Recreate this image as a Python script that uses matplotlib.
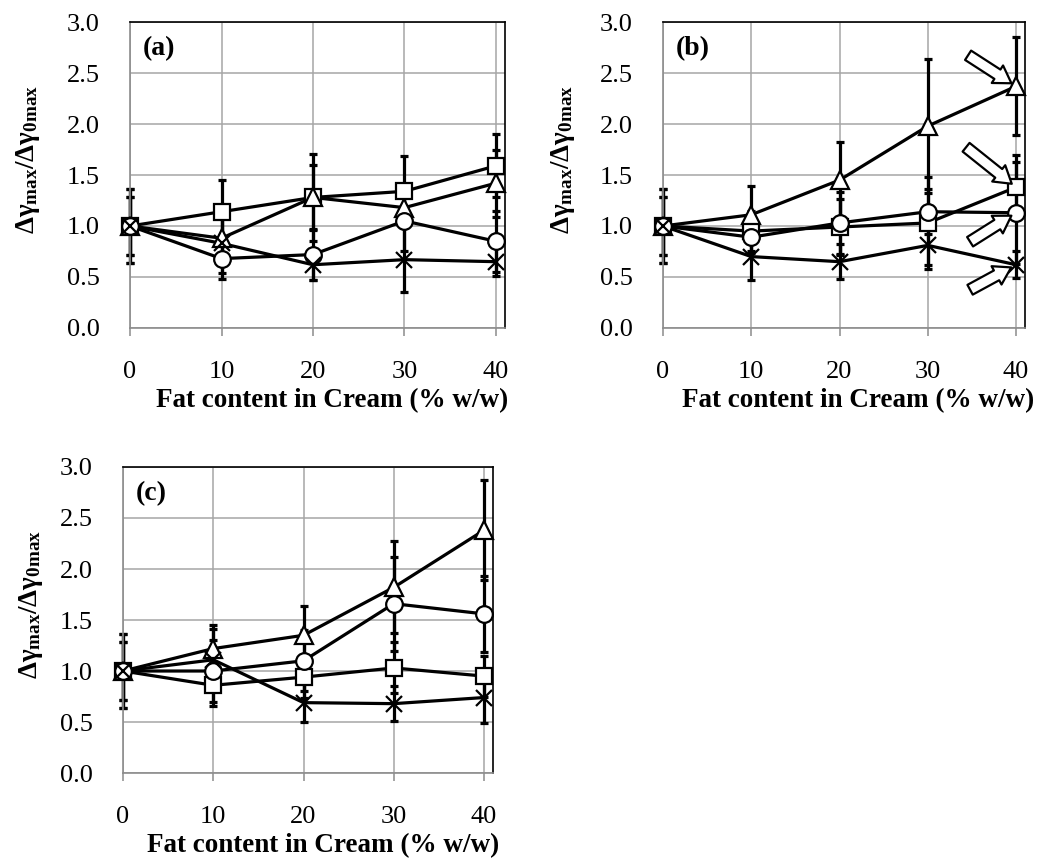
import numpy as np
import matplotlib
matplotlib.use("Agg")
import matplotlib.pyplot as plt

plt.rcParams["font.family"] = ["Liberation Serif", "DejaVu Serif"]
plt.rcParams["mathtext.fontset"] = "custom"
plt.rcParams["mathtext.rm"] = "Liberation Serif"
plt.rcParams["mathtext.bf"] = "Liberation Serif:bold"
plt.rcParams["mathtext.it"] = "Liberation Serif:italic"

fat = [0, 10, 20, 30, 40]

# panel (a)
a_square = [1.0, 1.14, 1.28, 1.34, 1.59]
a_square_err = [0.36, 0.31, 0.43, 0.35, 0.31]
a_triangle = [1.0, 0.88, 1.28, 1.18, 1.42]
a_triangle_err = [0.28, 0.20, 0.32, 0.20, 0.33]
a_circle = [1.0, 0.68, 0.72, 1.05, 0.85]
a_circle_err = [0.28, 0.20, 0.25, 0.30, 0.30]
a_star = [1.0, 0.83, 0.62, 0.67, 0.65]
a_star_err = [0.36, 0.29, 0.15, 0.32, 0.14]

# panel (b)
b_square = [1.0, 0.95, 0.99, 1.03, 1.38]
b_square_err = [0.36, 0.20, 0.27, 0.45, 0.32]
b_triangle = [1.0, 1.11, 1.45, 1.98, 2.37]
b_triangle_err = [0.28, 0.28, 0.37, 0.66, 0.48]
b_circle = [1.0, 0.89, 1.03, 1.14, 1.13]
b_circle_err = [0.28, 0.15, 0.30, 0.22, 0.50]
b_star = [1.0, 0.70, 0.65, 0.81, 0.62]
b_star_err = [0.36, 0.23, 0.17, 0.19, 0.13]

# panel (c)
c_square = [1.0, 0.86, 0.94, 1.03, 0.95]
c_square_err = [0.36, 0.20, 0.20, 0.25, 0.20]
c_triangle = [1.0, 1.22, 1.35, 1.82, 2.38]
c_triangle_err = [0.28, 0.23, 0.29, 0.45, 0.49]
c_circle = [1.0, 1.00, 1.10, 1.66, 1.56]
c_circle_err = [0.28, 0.30, 0.30, 0.46, 0.37]
c_star = [1.0, 1.11, 0.69, 0.68, 0.74]
c_star_err = [0.36, 0.30, 0.19, 0.17, 0.25]

ylabel = r"Δγ$_{\mathbf{max}}$/Δγ$_{\mathbf{0max}}$"
xlabel = "Fat content in Cream (% w/w)"

styles = {
    "square": dict(marker="s", ms=12),
    "triangle": dict(marker="^", ms=12.5),
    "circle": dict(marker="o", ms=12),
    "star": dict(marker="x", ms=12),
}


def draw_panel(ax, data, tag, ylab_x):
    for name, (y, err) in data.items():
        eb = ax.errorbar(fat, y, yerr=err, fmt="none", ecolor="black",
                         elinewidth=2.3, capsize=3, capthick=2.3, zorder=2)
        for art in eb.get_children():
            art.set_clip_on(False)
        ax.plot(fat, y, "-", color="black", lw=2.3, zorder=3, clip_on=False)
    for name, (y, err) in data.items():
        st = styles[name]
        ax.plot(fat, y, ls="none", marker=st["marker"], ms=st["ms"],
                mfc="white", mec="black", mew=1.6, clip_on=False,
                zorder=5 if name == "star" else 4)

    ax.set_xlim(0, 41)
    ax.set_ylim(0, 3.0)
    ax.set_xticks(fat)
    ax.set_yticks(np.arange(0, 3.01, 0.5))
    ax.set_yticklabels([f"{v:.1f}" for v in np.arange(0, 3.01, 0.5)])
    ax.grid(True, color="#a6a6a6", lw=1.1, zorder=0)
    ax.set_axisbelow(True)
    for s in ["top", "right"]:
        ax.spines[s].set_color("black")
        ax.spines[s].set_linewidth(1.2)
    for s in ["left", "bottom"]:
        ax.spines[s].set_color("#8c8c8c")
        ax.spines[s].set_linewidth(1.2)
    ax.tick_params(axis="y", length=0, pad=22, labelsize=19)
    ax.tick_params(axis="x", length=6, width=1.1, color="#8c8c8c",
                   direction="out", pad=18, labelsize=19)
    ax.set_xlabel(xlabel, fontsize=19.5, fontweight="bold")
    ax.xaxis.set_label_coords(0.54, -0.195)
    ax.set_ylabel(ylabel, fontsize=19.5, fontweight="bold")
    ax.yaxis.set_label_coords(ylab_x, 0.55)
    ax.text(0.035, 0.955, tag, transform=ax.transAxes, fontsize=20,
            fontweight="bold", va="top", ha="left")


fig = plt.figure(figsize=(10.47, 8.64), dpi=100)
ax_a = fig.add_axes([0.1242, 0.6204, 0.3582, 0.3541])
ax_b = fig.add_axes([0.6332, 0.6204, 0.3457, 0.3541])
ax_c = fig.add_axes([0.1175, 0.1053, 0.3534, 0.3542])

draw_panel(ax_a, {"square": (a_square, a_square_err),
                  "triangle": (a_triangle, a_triangle_err),
                  "circle": (a_circle, a_circle_err),
                  "star": (a_star, a_star_err)}, "(a)", -0.235)
draw_panel(ax_b, {"square": (b_square, b_square_err),
                  "triangle": (b_triangle, b_triangle_err),
                  "circle": (b_circle, b_circle_err),
                  "star": (b_star, b_star_err)}, "(b)", -0.238)
draw_panel(ax_c, {"square": (c_square, c_square_err),
                  "triangle": (c_triangle, c_triangle_err),
                  "circle": (c_circle, c_circle_err),
                  "star": (c_star, c_star_err)}, "(c)", -0.211)

# hollow arrows pointing at the 40 % points in (b)
arrow_props = dict(arrowstyle="simple,head_length=0.6,head_width=0.75,tail_width=0.4",
                   fc="white", ec="black", lw=1.6, shrinkA=0, shrinkB=4,
                   mutation_scale=20)
for y, dx, dy in [(b_triangle[-1], -48, 31), (b_square[-1], -50, 40),
                  (b_circle[-1], -46, -29), (b_star[-1], -46, -25)]:
    ax_b.annotate("", xy=(40, y), xytext=(dx, dy), textcoords="offset pixels",
                  arrowprops=arrow_props, zorder=6)

fig.savefig("out.png", dpi=100)
